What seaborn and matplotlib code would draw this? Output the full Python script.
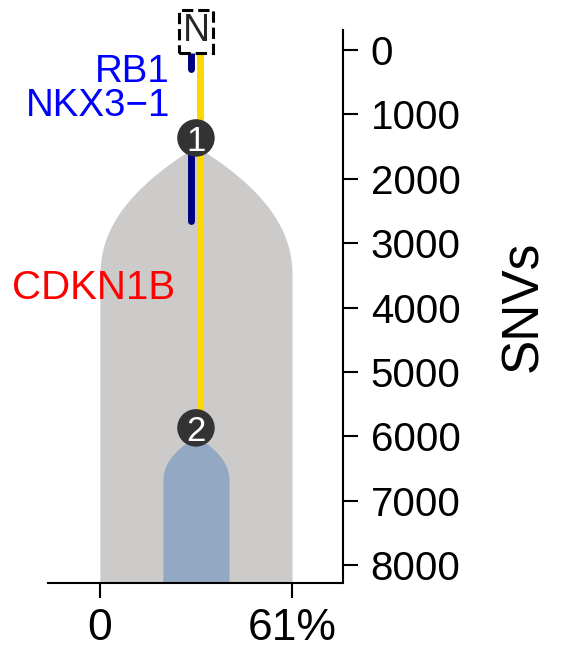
import numpy as np
import pandas as pd
import matplotlib
matplotlib.use("Agg")
import matplotlib.pyplot as plt
import seaborn as sns

# clone tree data (SNVs on the y axis, cell fraction % on the x axis)
node_labels = ["N", "1", "2"]
node_snvs = [-350, 1366, 5870]
clone_ids = ["1", "2"]
clone_ccf = [61, 21]
clone_colors = ["#cccbca", "#93a8c3"]
clone_center = 30.5

trunk_snvs = [0, 5870]
event_starts = [0, 1366]
event_ends = [300, 2650]

gene_labels = ["RB1", "NKX3\u22121", "CDKN1B"]
gene_snvs = [287, 808, 3634]
gene_right = [22.2, 22.2, 23.8]
gene_sizes = [27.7, 27.7, 29]
gene_colors = ["#0000ff", "#0000ff", "#ff0000"]

y_ticks = [0, 1000, 2000, 3000, 4000, 5000, 6000, 7000, 8000]
x_ticks = [0, 61]
x_ticklabels = ["0", "61%"]

sns.set_theme(style="white")
plt.rcParams["font.family"] = ["Liberation Sans", "DejaVu Sans"]

fig = plt.figure(figsize=(5.64, 6.52), dpi=100)
ax = fig.add_axes([0.0851, 0.1058, 0.5230, 0.8482])
ymax = 8280

# bell shaped clone bodies
for cid, ccf, col in zip(clone_ids, clone_ccf, clone_colors):
    start = node_snvs[node_labels.index(cid)] + 130
    ramp = 33 * ccf
    yy = np.linspace(start, ymax, 400)
    t = np.clip((yy - start) / ramp, 0, 1)
    hw = ccf / 2 * (1 - (1 - t) ** 2.2)
    ax.fill_betweenx(yy, clone_center - hw, clone_center + hw, color=col, lw=0, zorder=1)

# trunk line
trunk = pd.DataFrame({"x": [clone_center + 1.25] * 2, "y": trunk_snvs})
sns.lineplot(data=trunk, x="x", y="y", orient="y", color="#ffd700", lw=5,
             solid_capstyle="butt", ax=ax, zorder=3)

# driver event segments
for s, e in zip(event_starts, event_ends):
    seg = pd.DataFrame({"x": [clone_center - 1.6] * 2, "y": [s, e]})
    sns.lineplot(data=seg, x="x", y="y", orient="y", color="#000080", lw=5,
                 solid_capstyle="round", ax=ax, zorder=3)

# clone nodes
nodes = pd.DataFrame({"x": [clone_center] * 2, "y": node_snvs[1:]})
sns.scatterplot(data=nodes, x="x", y="y", s=27 ** 2, color="#333333",
                edgecolor="none", ax=ax, zorder=5, clip_on=False)
for lab, y in zip(node_labels[1:], node_snvs[1:]):
    ax.text(clone_center, y, lab, color="white", fontsize=25, ha="center",
            va="center_baseline", zorder=6)

ax.text(clone_center, node_snvs[0], node_labels[0], fontsize=27, ha="center",
        va="center_baseline", zorder=6, clip_on=False,
        bbox=dict(boxstyle="square,pad=0.1", fc="white", ec="black", lw=2.2, ls="--"))

for lab, y, xr, fs, col in zip(gene_labels, gene_snvs, gene_right, gene_sizes, gene_colors):
    ax.text(xr, y, lab, color=col, fontsize=fs, ha="right", va="center_baseline", zorder=6)

ax.set_xlim(-16.5, 77.2)
ax.set_ylim(ymax, -311)
ax.yaxis.tick_right()
ax.yaxis.set_label_position("right")
ax.set_yticks(y_ticks)
ax.set_yticklabels([str(v) for v in y_ticks])
ax.set_xticks(x_ticks)
ax.set_xticklabels(x_ticklabels)
ax.set_xlabel("")
ax.set_ylabel("SNVs", fontsize=37, labelpad=28, color="black")
ax.tick_params(axis="y", right=True, left=False, direction="out", length=11,
               width=1.5, labelsize=29, pad=9, colors="black")
ax.tick_params(axis="x", bottom=True, direction="out", length=11, width=1.5,
               labelsize=32, pad=7, colors="black")
for side in ["left", "top"]:
    ax.spines[side].set_visible(False)
for side in ["right", "bottom"]:
    ax.spines[side].set_linewidth(1.5)
    ax.spines[side].set_color("black")

fig.savefig("out.png", dpi=100)
